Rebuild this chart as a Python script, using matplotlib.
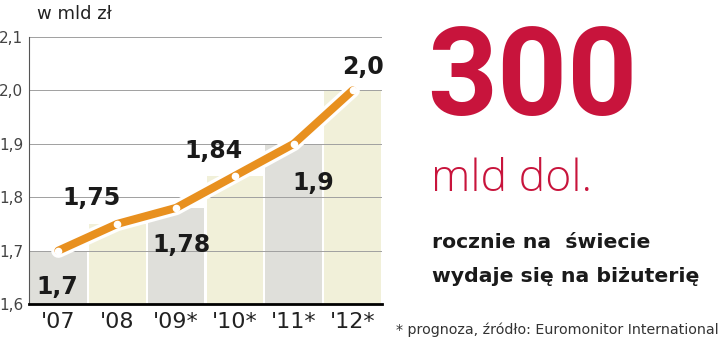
import matplotlib.pyplot as plt
import matplotlib.patheffects as pe
import numpy as np

# dane
lata = ["'07", "'08", "'09*", "'10*", "'11*", "'12*"]
wartosci = [1.7, 1.75, 1.78, 1.84, 1.9, 2.0]
etykiety = ["1,7", "1,75", "1,78", "1,84", "1,9", "2,0"]
ticki_y = [1.6, 1.7, 1.8, 1.9, 2.0, 2.1]
ticki_y_txt = ["1,6", "1,7", "1,8", "1,9", "2,0", "2,1"]

# przesuniecia etykiet wartosci (w punktach)
przes = [(-0.7, -26), (-18.7, 18.4), (3.6, -27), (-15.8, 17.6), (13.7, -28), (7.2, 16.6)]

kolory_slupkow = ['#dfdfda', '#f1f0d9']
pomarancz = '#e8901f'
czerwony = '#c8143c'

fig = plt.figure(figsize=(7.2, 3.41), dpi=100)
ax = fig.add_axes([29/720, 1 - 304/341, 353/720, 267/341])

x = np.arange(len(lata))
ax.bar(x, np.array(wartosci) - 1.6, bottom=1.6, width=0.965,
       color=[kolory_slupkow[i % 2] for i in range(len(x))], zorder=1)

for t in ticki_y[1:]:
    ax.axhline(t, color='#a0a0a0', lw=0.7, zorder=2)

ax.plot(x, wartosci, color=pomarancz, lw=5.8, solid_capstyle='round', zorder=3,
        path_effects=[pe.Stroke(linewidth=10.5, foreground='white'), pe.Normal()])
ax.plot(x, wartosci, 'o', color='white', ms=4.5, zorder=4)

for xi, v, et, (dx, dy) in zip(x, wartosci, etykiety, przes):
    ax.annotate(et, (xi, v), xytext=(dx, dy), textcoords='offset points',
                ha='center', va='center', fontsize=17, fontweight='bold',
                color='#1a1a1a', zorder=5)

ax.set_xlim(-0.5, 5.5)
ax.set_ylim(1.6, 2.1)
ax.set_xticks(x)
ax.set_xticklabels(lata, fontsize=16, color='#222222', family='Liberation Sans Narrow')
ax.set_yticks(ticki_y)
ax.set_yticklabels(ticki_y_txt, fontsize=11, color='#444444', family='Liberation Sans Narrow')
ax.tick_params(length=0, pad=4)
ax.tick_params(axis='x', pad=6)
for s in ['top', 'right']:
    ax.spines[s].set_visible(False)
ax.spines['bottom'].set_linewidth(2)
ax.spines['left'].set_linewidth(0.8)
ax.spines['left'].set_color('#555555')

fig.text(37/720, 1 - 14/341, 'w mld zł', fontsize=13, color='#222222', va='center')

fig.text(427/720, 1 - 81/341, '300', fontsize=88, fontweight='bold', color=czerwony,
         va='center', ha='left', family='Roboto')
fig.text(431/720, 1 - 180/341, 'mld dol.', fontsize=32, fontweight='light', color=czerwony,
         va='center', ha='left', family='Open Sans')
fig.text(432/720, 1 - 243/341, 'rocznie na  świecie', fontsize=14.7, fontweight='bold',
         color='#1a1a1a', va='center', ha='left')
fig.text(432/720, 1 - 276/341, 'wydaje się na biżuterię', fontsize=14.7, fontweight='bold',
         color='#1a1a1a', va='center', ha='left')
fig.text(719/720, 1 - 330/341, '* prognoza, źródło: Euromonitor International', fontsize=10.3,
         color='#333333', va='center', ha='right', family='Liberation Sans Narrow')

fig.savefig('out.png', dpi=100)
